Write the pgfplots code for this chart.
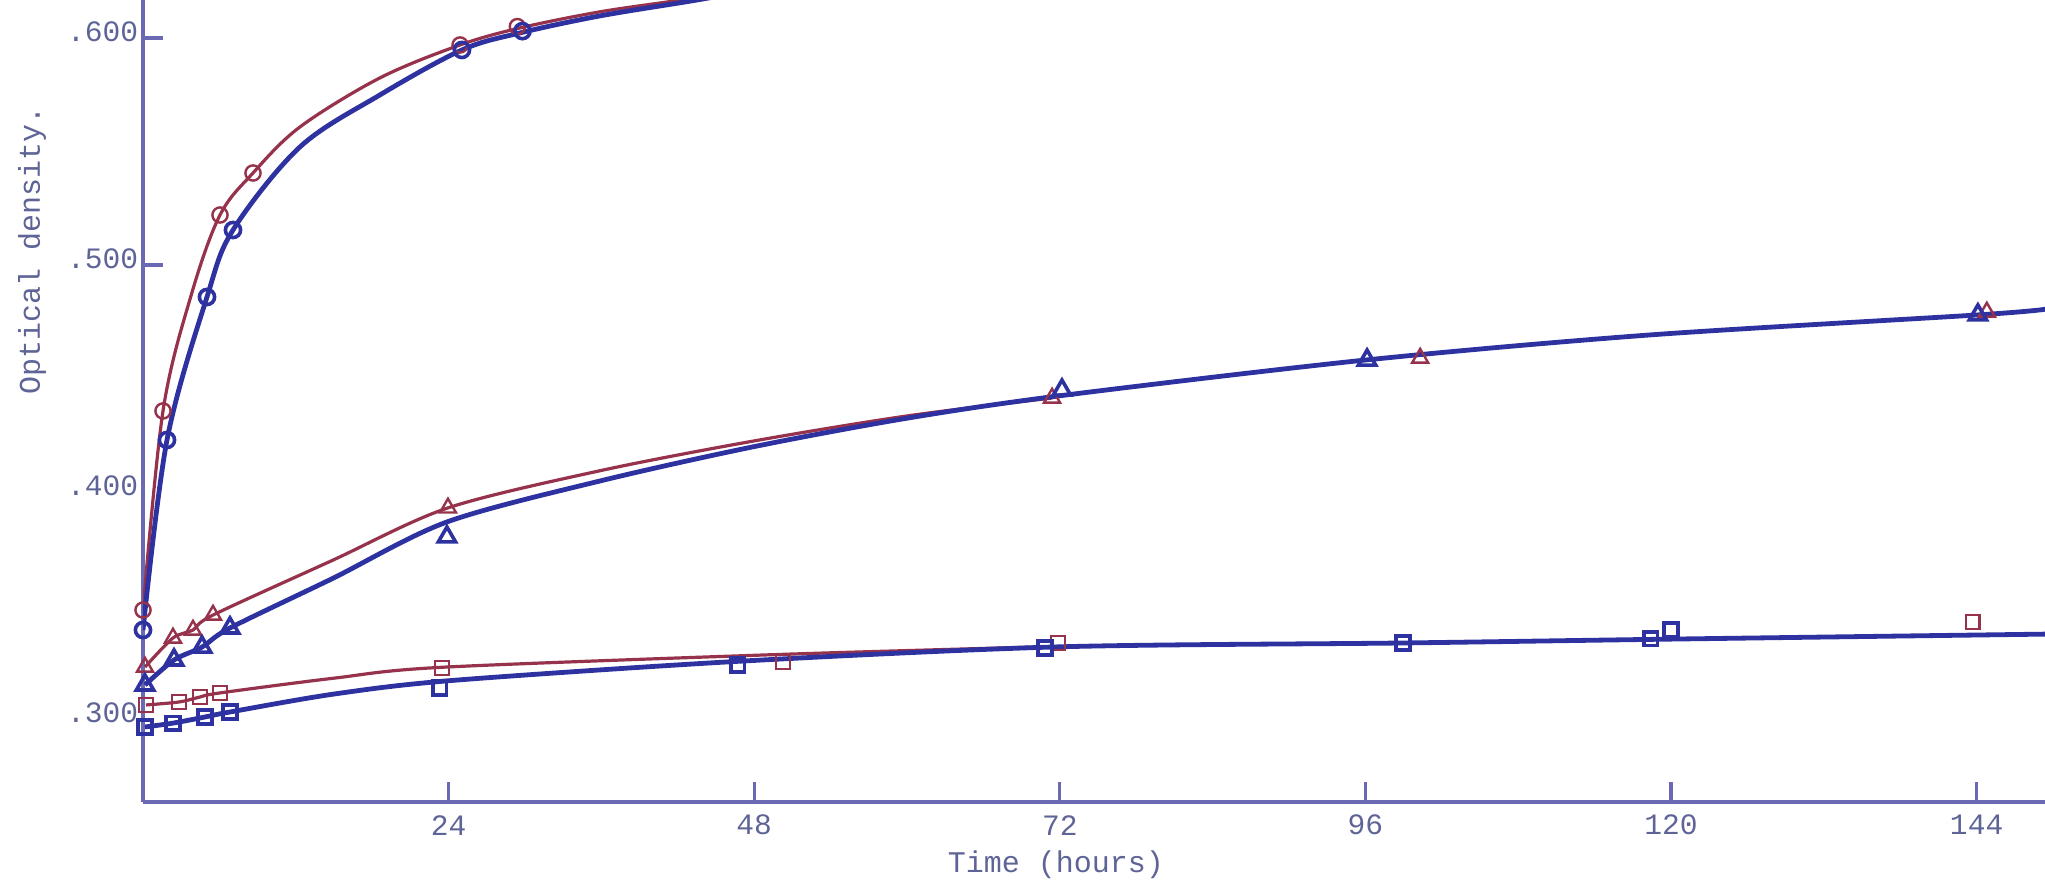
\documentclass[border=0pt]{standalone}
\usepackage{fontspec}
\setmainfont{Liberation Mono}
\usepackage{pgfplots}
\pgfplotsset{compat=1.18}
\definecolor{axblue}{RGB}{105,105,180}
\definecolor{txt}{RGB}{95,100,150}
\definecolor{dblue}{RGB}{45,50,160}
\definecolor{dred}{RGB}{150,50,75}
\begin{document}
\begin{tikzpicture}
\begin{axis}[name=ax,
 width=475.5pt, height=200.5pt, scale only axis,
 xmin=0, xmax=149.37, ymin=0.26344, ymax=0.6167,
 axis x line=bottom, axis y line=left,
 axis line style={-, axblue, line width=1pt},
 tick align=inside, major tick length=5pt,
 tick style={axblue, line width=0.8pt},
 xtick={24,48,72,96,120,144},
 ytick={0.5,0.6},
 yticklabels={.500,.600},
 extra y ticks={0.3,0.4},
 extra y tick labels={.300,.400},
 extra y tick style={major tick length=0pt},
 /pgf/number format/assume math mode=true,
 ticklabel style={font=\fontsize{7.4}{8}\selectfont, text=txt},
 xticklabel style={anchor=center, yshift=-5.8pt},
 yticklabel style={inner sep=1pt, yshift=1.5pt},
 xlabel={Time (hours)}, ylabel={Optical density.},
 label style={font=\fontsize{7.5}{8}\selectfont, text=txt},
 xlabel style={at={(axis description cs:0.48,0)}, anchor=center, yshift=-15.8pt},
 ylabel style={at={(axis description cs:-0.05825,0.688)}, anchor=center},
 clip=true,
]
% ---- circles: curves
\addplot[dred, line width=0.8pt, smooth, tension=0.55] coordinates {
 (0,0.348) (1.571,0.4357) (3.8,0.487) (6.047,0.522) (8.639,0.5405) (12.33,0.5608)
 (18.61,0.5824) (24.90,0.5969) (29.61,0.6044) (35.89,0.6115) (42.17,0.6167) (45.3,0.6203)};
\addplot[dblue, line width=1.2pt, smooth, tension=0.55] coordinates {
 (0,0.3392) (1.885,0.4229) (5.026,0.4859) (7.068,0.5154) (12.33,0.552) (18.61,0.5749)
 (25.05,0.5947) (29.61,0.6022) (35.89,0.6097) (43.51,0.6167) (46.9,0.6203)};
% ---- triangles: curves
\addplot[dred, line width=0.8pt, smooth, tension=0.5] coordinates {
 (0.157,0.3229) (2.356,0.3357) (3.927,0.3392) (5.498,0.3458) (14.92,0.370) (23.95,0.393)
 (36,0.4095) (48,0.4225) (60,0.4335) (71.4,0.4414)};
\addplot[dblue, line width=1.2pt, smooth, tension=0.5] coordinates {
 (0.157,0.315) (2.435,0.326) (4.634,0.3317) (6.833,0.3401) (14.92,0.362) (23.87,0.3868)
 (36,0.405) (48,0.420) (60,0.4325) (72.17,0.4425) (96.13,0.4582)
 (118.4,0.4692) (144.1,0.478) (149.4,0.4805)};
% ---- squares: curves
\addplot[dred, line width=0.8pt, smooth, tension=0.5] coordinates {
 (0.236,0.3062) (2.83,0.3075) (4.48,0.3097) (6.05,0.3115) (15,0.318) (23.5,0.3228)
 (50.3,0.3285) (72,0.3320)};
\addplot[dblue, line width=1.2pt, smooth, tension=0.5] coordinates {
 (0.157,0.2965) (2.356,0.2982) (4.87,0.3009) (6.83,0.3031) (15,0.311) (24.3,0.317)
 (47,0.3255) (72,0.3318) (99,0.3335) (120,0.3352) (149.4,0.3374)};
% ---- markers
\addplot[only marks, dred, mark=o, mark size=1.9pt, line width=0.6pt] coordinates {
 (0,0.348) (1.571,0.4357) (6.047,0.522) (8.639,0.5405) (24.90,0.5969) (29.4,0.6050)};
\addplot[only marks, dblue, mark=o, mark size=1.9pt, line width=0.9pt] coordinates {
 (0,0.3392) (1.885,0.4229) (5.026,0.4859) (7.068,0.5154) (25.05,0.5947) (29.8,0.6030)};
\addplot[only marks, dred, mark=triangle, mark size=2.3pt, line width=0.6pt] coordinates {
 (0.157,0.3229) (2.356,0.3357) (3.927,0.3392) (5.498,0.3458) (23.95,0.3930)
 (71.39,0.4414) (100.3,0.4590) (144.8,0.4793)};
\addplot[only marks, dblue, mark=triangle, mark size=2.5pt, line width=0.9pt] coordinates {
 (0.157,0.3150) (2.435,0.3260) (4.634,0.3317) (6.833,0.3401) (23.87,0.3802)
 (72.17,0.4449) (96.13,0.4581) (144.1,0.4780)};
\addplot[only marks, dred, mark=square, mark size=1.7pt, line width=0.6pt] coordinates {
 (0.236,0.3062) (2.83,0.3075) (4.48,0.3097) (6.05,0.3115) (23.48,0.3225)
 (50.26,0.3251) (71.86,0.3335) (143.7,0.3427)};
\addplot[only marks, dblue, mark=square, mark size=1.7pt, line width=0.9pt] coordinates {
 (0.157,0.2965) (2.356,0.2982) (4.87,0.3009) (6.83,0.3031) (23.3,0.3137)
 (46.7,0.3238) (70.84,0.3313) (98.95,0.3335) (118.4,0.3353) (120.0,0.3392)};
\end{axis}
\pgfresetboundingbox
\path[use as bounding box] ([xshift=-35.75pt,yshift=-21pt]ax.south west) rectangle (ax.north east);
\end{tikzpicture}
\end{document}
